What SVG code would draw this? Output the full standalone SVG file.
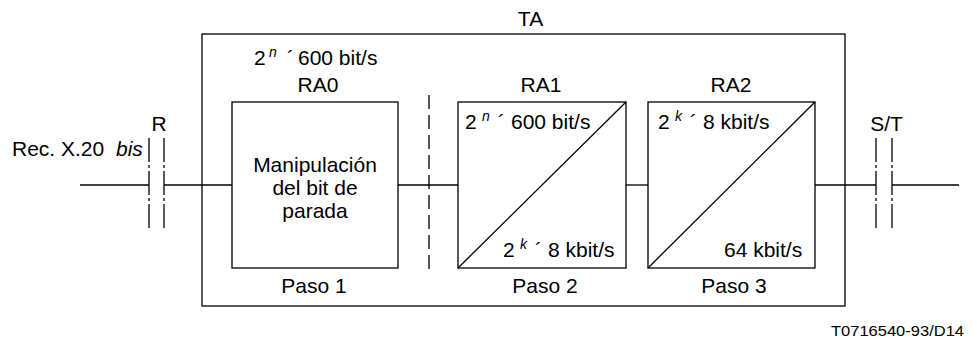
<svg xmlns="http://www.w3.org/2000/svg" width="977" height="342" viewBox="0 0 977 342">
<style>
text{font-family:"Liberation Sans",Arial,sans-serif;font-size:21px;fill:#000}
.c{text-anchor:middle}
.sup{font-size:14px;font-style:italic}
.it{font-style:italic}
.box{fill:#fff;stroke:#000;stroke-width:1.3}
.ln{fill:none;stroke:#000;stroke-width:1.3}
.cut{fill:none;stroke:#000;stroke-width:1.3;stroke-dasharray:24 3 3 3}
.dash{fill:none;stroke:#000;stroke-width:1.3;stroke-dasharray:14 6}
</style>
<rect width="977" height="342" fill="#fff"/>
<g id="connectors">
<line class="ln" x1="80" y1="185" x2="149" y2="185"/>
<line class="ln" x1="164" y1="185" x2="232" y2="185"/>
<line class="ln" x1="398" y1="185" x2="458" y2="185"/>
<line class="ln" x1="626" y1="185" x2="648" y2="185"/>
<line class="ln" x1="815" y1="185" x2="876" y2="185"/>
<line class="ln" x1="892" y1="185" x2="959" y2="185"/>
</g>
<g id="TA">
<rect class="ln" x="202" y="34" width="643" height="272"/>
<text class="c" x="530.5" y="26">TA</text>
<line class="dash" x1="429" y1="95" x2="429" y2="269"/>
</g>
<g id="R">
<line class="cut" x1="149" y1="138" x2="149" y2="229"/>
<line class="cut" x1="164" y1="138" x2="164" y2="229"/>
<text class="c" x="159" y="131">R</text>
<text x="12" y="156">Rec. X.20</text>
<text class="it" x="116" y="156">bis</text>
</g>
<g id="ST">
<line class="cut" x1="876" y1="138" x2="876" y2="229"/>
<line class="cut" x1="892" y1="138" x2="892" y2="229"/>
<text class="c" x="886.5" y="131">S/T</text>
</g>
<g id="RA0">
<rect class="box" x="232" y="102" width="166" height="166"/>
<text x="254" y="65">2</text>
<text class="sup" x="269" y="57">n</text>
<text x="287" y="65">´</text>
<text x="298" y="65">600 bit/s</text>
<text class="c" x="318" y="92">RA0</text>
<text class="c" x="315" y="172">Manipulación</text>
<text class="c" x="315" y="195">del bit de</text>
<text class="c" x="315" y="218">parada</text>
<text class="c" x="314" y="293">Paso 1</text>
</g>
<g id="RA1">
<rect class="box" x="458" y="102" width="168" height="166"/>
<line class="ln" x1="458" y1="268" x2="626" y2="102"/>
<text class="c" x="541" y="92">RA1</text>
<text x="465" y="129">2</text>
<text class="sup" x="482" y="121">n</text>
<text x="498" y="129">´</text>
<text x="511" y="129">600 bit/s</text>
<text x="503" y="257">2</text>
<text class="sup" x="520" y="249">k</text>
<text x="535" y="257">´</text>
<text x="548" y="257">8 kbit/s</text>
<text class="c" x="545" y="293">Paso 2</text>
</g>
<g id="RA2">
<rect class="box" x="648" y="102" width="167" height="166"/>
<line class="ln" x1="648" y1="268" x2="815" y2="102"/>
<text class="c" x="731" y="92">RA2</text>
<text x="658" y="129">2</text>
<text class="sup" x="675" y="121">k</text>
<text x="690" y="129">´</text>
<text x="703" y="129">8 kbit/s</text>
<text x="724" y="257">64 kbit/s</text>
<text class="c" x="734" y="293">Paso 3</text>
</g>
<text x="831" y="336" style="font-size:15px" textLength="133" lengthAdjust="spacingAndGlyphs">T0716540-93/D14</text>
</svg>
